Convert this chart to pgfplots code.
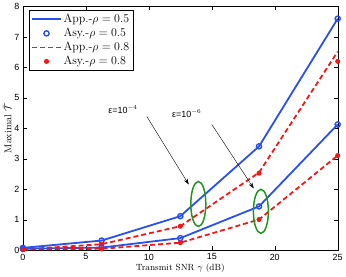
\documentclass[border=0pt]{standalone}
\usepackage{fontspec}
\setsansfont{Liberation Sans}
\usepackage{amsmath}
\usepackage{pgfplots}
\pgfplotsset{compat=1.18}
\usetikzlibrary{arrows.meta}
\definecolor{myblue}{RGB}{40,80,240}
\definecolor{myred}{RGB}{250,20,20}
\definecolor{mygreen}{RGB}{30,150,30}
\tikzset{mydash/.style={dash pattern=on 5pt off 3pt}}
\pgfplotsset{legend image code/.code={\draw[mark repeat=2,mark phase=2,#1] plot coordinates {(0cm,0cm)(0.5cm,0cm)(1cm,0cm)};}}
\begin{document}
\sbox0{\large App.-$\rho=0.5$ Asy.-$\rho=0.8$}%
\sbox2{\sffamily\small ε=10$^{-4}$ 0123456789}%
\begin{tikzpicture}
\begin{axis}[
  scale only axis,
  width=315bp, height=244bp,
  xmin=0, xmax=25, ymin=0, ymax=8,
  xtick={0,5,10,15,20,25}, ytick={0,1,2,3,4,5,6,7,8},
  tick align=inside,
  tick style={black, line width=0.4pt},
  major tick length=4bp,
  ticklabel style={font=\sffamily\small},
  /pgf/number format/assume math mode=true,
  xlabel={Transmit SNR $\gamma$ (dB)},
  ylabel={Maximal $\bar{\mathcal{T}}$},
  xlabel style={font=\small, yshift=3bp},
  ylabel style={font=\normalsize, yshift=-4bp},
  legend pos=north west,
  legend style={font=\large, draw=black, line width=0.5pt, inner sep=2pt, at={(0.02,0.985)}},
  legend cell align=left,
  clip=false,
]
% App rho=0.5, eps=1e-4
\addplot[color=myblue, line width=1.8pt] coordinates {(0,0.08) (6.25,0.32) (12.5,1.12) (18.75,3.41) (25,7.6)};
\addlegendentry{App.-$\rho=0.5$}
\addplot[color=myblue, only marks, mark=o, mark size=2.6pt, line width=1.4pt] coordinates {(0,0.08) (6.25,0.32) (12.5,1.12) (18.75,3.41) (25,7.6)};
\addlegendentry{Asy.-$\rho=0.5$}
\addplot[color=myred, line width=1.8pt, mydash] coordinates {(0,0.03) (6.25,0.2) (12.5,0.79) (18.75,2.55) (25,6.52)};
\addlegendentry{App.-$\rho=0.8$}
\addplot[color=myred, only marks, mark=*, mark size=2pt, line width=1pt] coordinates {(0,0.03) (6.25,0.2) (12.5,0.79) (18.75,2.53) (25,6.2)};
\addlegendentry{Asy.-$\rho=0.8$}
% eps=1e-6
\addplot[color=myblue, line width=1.8pt, forget plot] coordinates {(0,0.05) (6.25,0.09) (12.5,0.4) (18.75,1.44) (25,4.13)};
\addplot[color=myblue, only marks, mark=o, mark size=2.6pt, line width=1.4pt, forget plot] coordinates {(0,0.05) (6.25,0.09) (12.5,0.4) (18.75,1.44) (25,4.13)};
\addplot[color=myred, line width=1.8pt, mydash, forget plot] coordinates {(0,0.02) (6.25,0.05) (12.5,0.25) (18.75,1.01) (25,3.11)};
\addplot[color=myred, only marks, mark=*, mark size=2pt, line width=1pt, forget plot] coordinates {(0,0.02) (6.25,0.05) (12.5,0.25) (18.75,1.01) (25,3.11)};
% annotations
\draw[mygreen, line width=1.5pt] (axis cs:13.93,1.52) ellipse [x radius=7.5bp, y radius=22.5bp];
\draw[mygreen, line width=1.5pt] (axis cs:18.9,1.28) ellipse [x radius=7.5bp, y radius=22bp];
\node[font=\sffamily\small] at (axis cs:7.94,4.62) {ε=10$^{-4}$};
\node[font=\sffamily\small] at (axis cs:13.0,4.49) {ε=10$^{-6}$};
\draw[-{Stealth[length=6pt,width=4pt]}, line width=0.4pt] (axis cs:9.84,4.39) -- (axis cs:13.17,2.16);
\draw[-{Stealth[length=6pt,width=4pt]}, line width=0.4pt] (axis cs:15.0,4.13) -- (axis cs:18.33,2.03);
\end{axis}
\end{tikzpicture}
\end{document}
